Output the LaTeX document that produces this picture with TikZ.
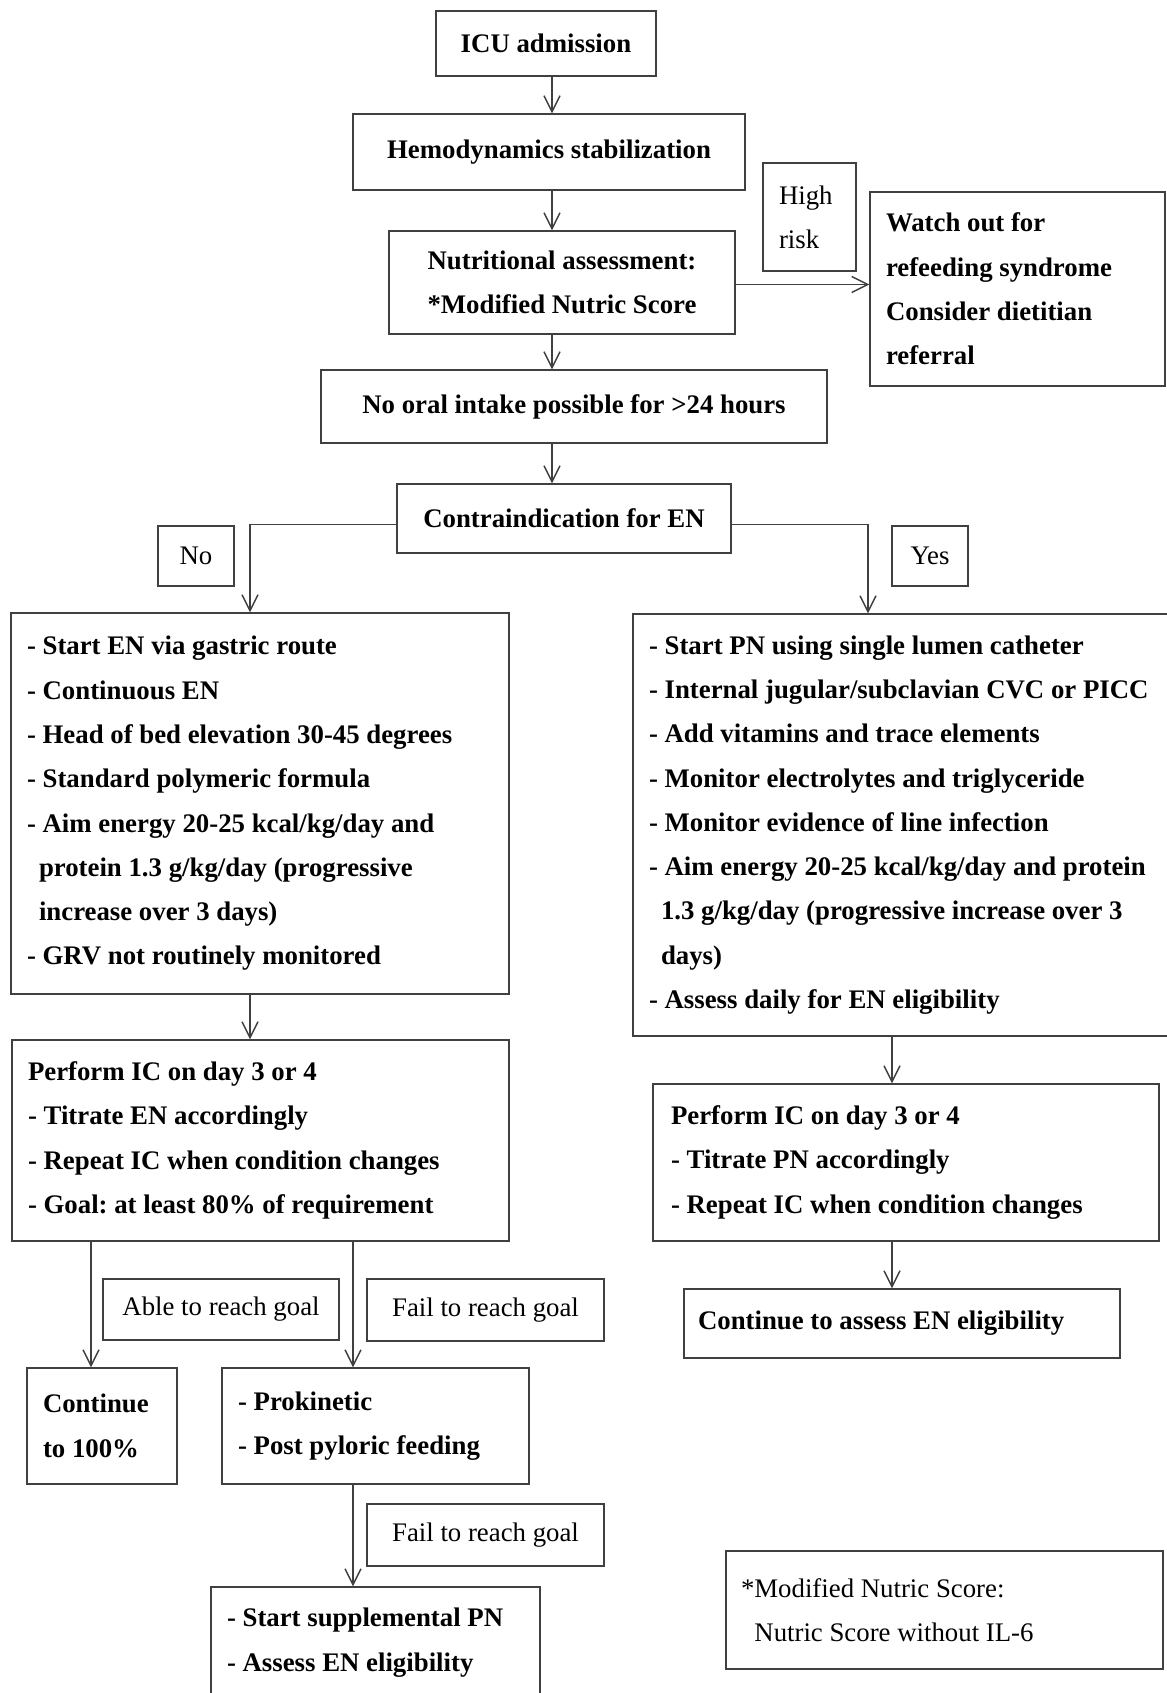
\documentclass[tikz,border=0pt]{standalone}
\usepackage{fontspec}
\setmainfont{Liberation Serif}
\usepackage{tikz}
\usepackage{xcolor}
\usetikzlibrary{arrows.meta}
\tikzset{>={Straight Barb[length=8pt,width=8pt]}}
\definecolor{linegray}{gray}{0.25}
\frenchspacing

\begin{document}
\begin{tikzpicture}[x=0.5pt, y=-0.5pt,
    box/.style={draw=linegray, line width=0.7pt, inner xsep=8pt, inner ysep=0pt,
      font=\bfseries\fontsize{13.4}{22.15}\selectfont},
    tag/.style={box, font=\fontsize{13.4}{22.15}\selectfont},
    flow/.style={draw=linegray, line width=0.7pt, ->}]
  \useasboundingbox (0,0) rectangle (1167,1693);
  % top column
  \node[box, minimum width=110pt, minimum height=32.5pt] (icu) at (546,43.5) {ICU admission};
  \node[box, minimum width=196pt, minimum height=38pt] (hemo) at (549,152) {Hemodynamics stabilization};
  \node[box, minimum width=173pt, minimum height=51.5pt, align=center] (nutri) at (562,282.5)
    {Nutritional assessment:\\*Modified Nutric Score};
  \node[tag, minimum width=46.5pt, minimum height=54pt, text width=30.5pt, align=flush left] (risk) at (809.5,217)
    {High\\risk};
  \node[box, minimum width=147.5pt, minimum height=97pt, text width=131.5pt, align=flush left] (watch) at (1017.5,289)
    {Watch out for\\refeeding syndrome\\Consider dietitian\\referral};
  \node[box, minimum width=253pt, minimum height=36.5pt] (oral) at (574,406.5) {No oral intake possible for >24 hours};
  \node[box, minimum width=167pt, minimum height=34.5pt] (contra) at (564,518.5) {Contraindication for EN};
  \node[tag, minimum width=38pt, minimum height=30pt, inner xsep=0pt] (no) at (196,556) {No};
  \node[tag, minimum width=38pt, minimum height=30pt, inner xsep=0pt] (yes) at (930,556) {Yes};
  % EN branch
  \node[box, minimum width=249pt, minimum height=190.5pt, text width=233pt, align=flush left] (en) at (260,803.5)
    {- Start EN via gastric route\\
     - Continuous EN\\
     - Head of bed elevation 30-45 degrees\\
     - Standard polymeric formula\\
     - Aim energy 20-25 kcal/kg/day and\\
     \hspace*{6pt}protein 1.3 g/kg/day (progressive\\
     \hspace*{6pt}increase over 3 days)\\
     - GRV not routinely monitored};
  \node[box, minimum width=248.5pt, minimum height=100.5pt, text width=232.5pt, align=flush left] (icl) at (260.5,1140.5)
    {Perform IC on day 3 or 4\\
     - Titrate EN accordingly\\
     - Repeat IC when condition changes\\
     - Goal: at least 80\% of requirement};
  \node[tag, minimum width=118pt, minimum height=30.5pt, inner xsep=0pt] (able) at (221,1309.5) {Able to reach goal};
  \node[tag, minimum width=118.5pt, minimum height=31pt, inner xsep=0pt] (fail) at (485.5,1310) {Fail to reach goal};
  \node[box, minimum width=75pt, minimum height=58pt, text width=59pt, align=flush left] (full) at (102,1426)
    {Continue\\to 100\%};
  \node[box, minimum width=153.5pt, minimum height=58pt, text width=137.5pt, align=flush left, inner xsep=7pt] (prok) at (375.5,1426)
    {- Prokinetic\\- Post pyloric feeding};
  \node[tag, minimum width=118.5pt, minimum height=31pt, inner xsep=0pt] (failb) at (485.5,1535) {Fail to reach goal};
  \node[box, minimum width=164.5pt, minimum height=55.5pt, text width=148.5pt, align=flush left] (supp) at (375.5,1642.5)
    {- Start supplemental PN\\- Assess EN eligibility};
  % PN branch
  \node[box, minimum width=276pt, minimum height=211pt, text width=260pt, align=flush left] (pn) at (909,825)
    {- Start PN using single lumen catheter\\
     - Internal jugular/subclavian CVC or PICC\\
     - Add vitamins and trace elements\\
     - Monitor electrolytes and triglyceride\\
     - Monitor evidence of line infection\\
     - Aim energy 20-25 kcal/kg/day and protein\\
     \hspace*{6pt}1.3 g/kg/day (progressive increase over 3\\
     \hspace*{6pt}days)\\
     - Assess daily for EN eligibility};
  \node[box, minimum width=251pt, minimum height=78.5pt, text width=235pt, align=flush left, inner xsep=9pt] (icr) at (906,1162.5)
    {Perform IC on day 3 or 4\\
     - Titrate PN accordingly\\
     - Repeat IC when condition changes};
  \node[box, minimum width=218pt, minimum height=34.5pt, text width=204pt, align=flush left, inner xsep=7pt] (assess) at (902,1323.5)
    {Continue to assess EN eligibility};
  \node[tag, minimum width=218.5pt, minimum height=59pt, text width=203.5pt, align=flush left, inner xsep=7.5pt] (note) at (944.5,1610)
    {*Modified Nutric Score:\\\phantom{*}Nutric Score without IL-6};
  % connectors
  \coordinate (spine) at (552,0);
  \coordinate (noline) at (250,0);
  \coordinate (yesline) at (868,0);
  \coordinate (pnline) at (892,0);
  \coordinate (fullline) at (91,0);
  \coordinate (failline) at (353,0);
  \draw[flow] (icu.south -| spine) -- (hemo.north -| spine);
  \draw[flow] (hemo.south -| spine) -- (nutri.north -| spine);
  \draw[flow] (nutri.south -| spine) -- (oral.north -| spine);
  \draw[flow] (oral.south -| spine) -- (contra.north -| spine);
  \draw[flow] ([yshift=-1pt]nutri.east) -- ([yshift=-1pt]nutri.east -| watch.west);
  \draw[flow] ([yshift=-3pt]contra.west) -| (en.north -| noline);
  \draw[flow] ([yshift=-3pt]contra.east) -| (pn.north -| yesline);
  \draw[flow] (en.south -| noline) -- (icl.north -| noline);
  \draw[flow] (pn.south -| pnline) -- (icr.north -| pnline);
  \draw[flow] (icr.south -| pnline) -- (assess.north -| pnline);
  \draw[flow] (icl.south -| fullline) -- (full.north -| fullline);
  \draw[flow] (icl.south -| failline) -- (prok.north -| failline);
  \draw[flow] (prok.south -| failline) -- (supp.north -| failline);
\end{tikzpicture}
\end{document}
